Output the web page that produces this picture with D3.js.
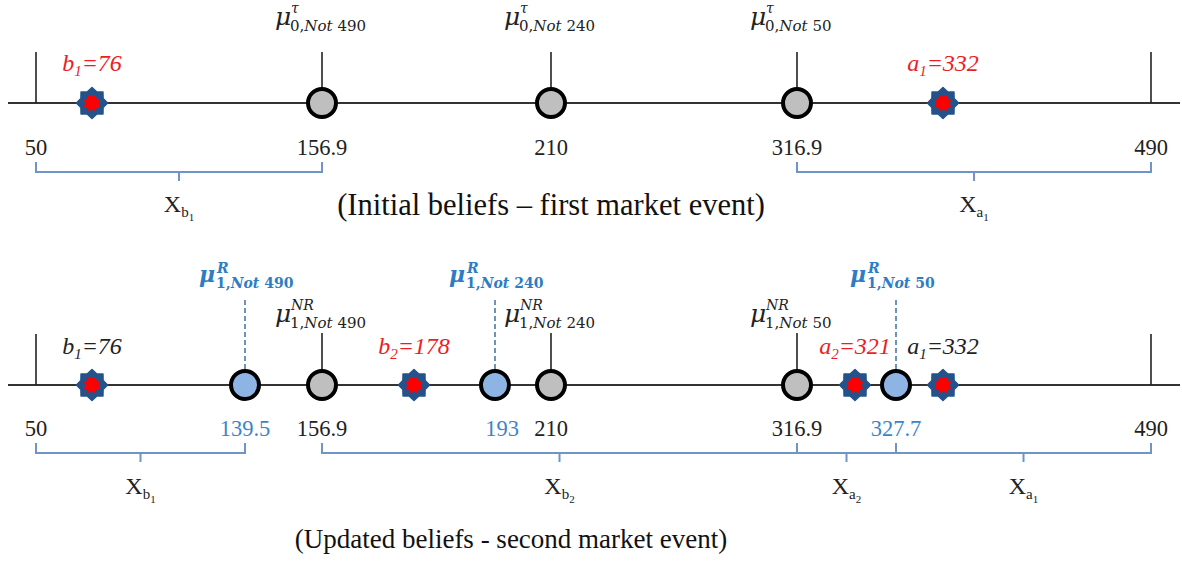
<!DOCTYPE html>
<html>
<head>
<meta charset="utf-8">
<script src="https://cdn.jsdelivr.net/npm/d3@7"></script>
<style>
  body { margin: 0; background: #fff; }
</style>
</head>
<body>
<div id="chart"></div>
<script>
var w = 1182;
var h = 566;

// schematic positions along the line (value -> pixel), the picture is not to scale
var anchorValues = [50, 76, 139.5, 156.9, 178, 193, 210, 316.9, 321, 327.7, 332, 490];
var anchorPixels = [36, 92, 245, 322, 414, 495, 551, 797, 855, 896, 943, 1151];

// first market event
var topTicks = [50, 156.9, 210, 316.9, 490];
var topCircles = [156.9, 210, 316.9];
var topCircleNot = ["490", "240", "50"];
var topStars = [76, 332];
var topStarNames = [["b", "1", "76"], ["a", "1", "332"]];
var topBraces = [[50, 156.9], [316.9, 490]];
var topBraceNames = [["b", "1"], ["a", "1"]];

// second market event
var botTicks = [50, 139.5, 156.9, 193, 210, 316.9, 327.7, 490];
var botTickBlue = [false, true, false, true, false, false, true, false];
var nrCircles = [156.9, 210, 316.9];
var nrCircleNot = ["490", "240", "50"];
var rCircles = [139.5, 193, 327.7];
var rCircleNot = ["490", "240", "50"];
var botStars = [76, 178, 321, 332];
var botStarNames = [["b", "1", "76"], ["b", "2", "178"], ["a", "2", "321"], ["a", "1", "332"]];
var botStarRed = [false, true, true, false];
var botBraces = [[50, 139.5], [156.9, 316.9], [316.9, 327.7], [327.7, 490]];
var botBraceNames = [["b", "1"], ["b", "2"], ["a", "2"], ["a", "1"]];

var titles = ["(Initial beliefs \u2013 first market event)", "(Updated beliefs - second market event)"];

var red = "#ee1c24";
var blue = "#2e7cc4";
var braceCol = "#6f95c8";
var serif = "'Liberation Serif', 'Times New Roman', serif";
var mathFont = "'DejaVu Serif', serif";

var x = d3.scaleLinear().domain(anchorValues).range(anchorPixels);

var svg = d3.select("#chart").append("svg")
	.attr("width", w)
	.attr("height", h);

function star8(r1, r2) {
	var pts = [];
	for (var i = 0; i < 16; i++) {
		var a = i * Math.PI / 8 - Math.PI / 2;
		var r = i % 2 == 0 ? r1 : r2;
		pts.push([Math.cos(a) * r, Math.sin(a) * r]);
	}
	return "M" + pts.map(p => p.join(",")).join("L") + "Z";
}

function muLabel(g, lx, base, sup, subIdx, num, bold, col) {
	var muSize = bold ? 22 : 25;
	var off = bold ? 17 : 15;
	var t = g.append("text")
		.attr("fill", col)
		.attr("font-family", mathFont)
		.attr("font-weight", bold ? "bold" : "normal");
	t.append("tspan")
		.attr("x", lx).attr("y", base)
		.attr("font-size", muSize).attr("font-style", "italic")
		.text("\u03bc");
	t.append("tspan")
		.attr("x", lx + off + 1).attr("y", base - (bold ? 9 : 12))
		.attr("font-size", 14).attr("font-style", "italic")
		.text(sup);
	t.append("tspan")
		.attr("x", lx + off).attr("y", base + 6)
		.attr("font-size", bold ? 14 : 15)
		.text(subIdx + ",");
	t.append("tspan")
		.attr("font-size", bold ? 14 : 15).attr("font-style", "italic")
		.text("Not");
	t.append("tspan")
		.attr("dx", 5)
		.attr("font-size", bold ? 14 : 15)
		.text(num);
}

function starLabel(g, cx, base, nm, col) {
	var t = g.append("text")
		.attr("x", cx).attr("y", base)
		.attr("text-anchor", "middle")
		.attr("fill", col)
		.attr("font-family", serif)
		.attr("font-style", "italic")
		.attr("font-size", 24);
	t.append("tspan").text(nm[0]);
	t.append("tspan").attr("font-size", 15).attr("dy", 5).text(nm[1]);
	t.append("tspan").attr("dy", -5).text("=" + nm[2]);
}

function brace(g, v0, v1, y0, nm, labelY) {
	var a = x(v0), b = x(v1), m = (a + b) / 2;
	g.append("path")
		.attr("d", "M" + a + "," + y0 + "V" + (y0 + 10) + "H" + b + "V" + y0 +
			"M" + m + "," + (y0 + 10) + "V" + (y0 + 19))
		.attr("fill", "none")
		.attr("stroke", braceCol)
		.attr("stroke-width", 2);
	var t = g.append("text")
		.attr("x", m).attr("y", labelY)
		.attr("text-anchor", "middle")
		.attr("fill", "#222")
		.attr("font-family", serif)
		.attr("font-size", 24);
	t.append("tspan").text("X");
	t.append("tspan").attr("font-size", 15).attr("dy", 5).text(nm[0]);
	t.append("tspan").attr("font-size", 11).attr("dy", 4).text(nm[1]);
}

function drawLine(g, y) {
	g.append("line")
		.attr("x1", 8).attr("x2", 1180)
		.attr("y1", y).attr("y2", y)
		.attr("stroke", "#333")
		.attr("stroke-width", 2);
	[50, 490].forEach(v => {
		g.append("line")
			.attr("x1", x(v)).attr("x2", x(v))
			.attr("y1", y - 51).attr("y2", y)
			.attr("stroke", "#222").attr("stroke-width", 1.6);
	});
}

function drawStar(g, v, y) {
	g.append("path").attr("d", star8(15.5, 12))
		.attr("transform", "translate(" + x(v) + "," + y + ")")
		.attr("fill", "#24528a")
		.attr("stroke", "#24528a")
		.attr("stroke-width", 1.5)
		.attr("stroke-linejoin", "round");
	g.append("path").attr("d", star8(9, 6.5))
		.attr("transform", "translate(" + x(v) + "," + y + ") rotate(22.5)")
		.attr("fill", "#ff0000");
}

function drawCircle(g, v, y, fill) {
	g.append("circle")
		.attr("cx", x(v)).attr("cy", y).attr("r", 14)
		.attr("fill", fill)
		.attr("stroke", "#000")
		.attr("stroke-width", 4);
}

// ---------- top panel ----------
var topG = svg.append("g");
var y1 = 103;
drawLine(topG, y1);

topCircles.forEach((v, i) => {
	topG.append("line")
		.attr("x1", x(v)).attr("x2", x(v))
		.attr("y1", 52).attr("y2", y1)
		.attr("stroke", "#222").attr("stroke-width", 1.6);
	muLabel(topG, x(v) - 47, 25, "\u03c4", "0", topCircleNot[i], false, "#222");
});
topStars.forEach((v, i) => {
	drawStar(topG, v, y1);
	starLabel(topG, x(v), 71, topStarNames[i], red);
});
topCircles.forEach(v => drawCircle(topG, v, y1, "#bfbfbf"));

topG.selectAll("text.tick")
	.data(topTicks)
	.enter()
	.append("text")
	.attr("class", "tick")
	.attr("x", d => x(d))
	.attr("y", 155)
	.attr("text-anchor", "middle")
	.attr("font-family", serif)
	.attr("font-size", 22.5)
	.attr("fill", "#222")
	.text(d => d);

topBraces.forEach((b, i) => brace(topG, b[0], b[1], 162, topBraceNames[i], 212));

topG.append("text")
	.attr("x", 551).attr("y", 215)
	.attr("text-anchor", "middle")
	.attr("font-family", serif)
	.attr("font-size", 30.5)
	.attr("fill", "#111")
	.text(titles[0]);

// ---------- bottom panel ----------
var botG = svg.append("g");
var y2 = 385;
drawLine(botG, y2);

nrCircles.forEach((v, i) => {
	botG.append("line")
		.attr("x1", x(v)).attr("x2", x(v))
		.attr("y1", 333).attr("y2", y2)
		.attr("stroke", "#222").attr("stroke-width", 1.6);
	muLabel(botG, x(v) - 47, 322, "NR", "1", nrCircleNot[i], false, "#222");
});
rCircles.forEach((v, i) => {
	botG.append("line")
		.attr("x1", x(v)).attr("x2", x(v))
		.attr("y1", 300).attr("y2", y2)
		.attr("stroke", "#4f79a8").attr("stroke-width", 1.6)
		.attr("stroke-dasharray", "5,3");
	muLabel(botG, x(v) - 46, 282, "R", "1", rCircleNot[i], true, blue);
});
botStars.forEach((v, i) => {
	drawStar(botG, v, y2);
	starLabel(botG, x(v), 354, botStarNames[i], botStarRed[i] ? red : "#222");
});
nrCircles.forEach(v => drawCircle(botG, v, y2, "#bfbfbf"));
rCircles.forEach(v => drawCircle(botG, v, y2, "#8eb4e3"));

botG.selectAll("text.tick")
	.data(botTicks)
	.enter()
	.append("text")
	.attr("class", "tick")
	.attr("x", (d, i) => x(d) + (d == 193 ? 7 : 0))
	.attr("y", 436)
	.attr("text-anchor", "middle")
	.attr("font-family", serif)
	.attr("font-size", 22.5)
	.attr("fill", (d, i) => botTickBlue[i] ? "#3b86c8" : "#222")
	.text(d => d);

botBraces.forEach((b, i) => brace(botG, b[0], b[1], 443, botBraceNames[i], 494));

botG.append("text")
	.attr("x", 511).attr("y", 548)
	.attr("text-anchor", "middle")
	.attr("font-family", serif)
	.attr("font-size", 27)
	.attr("fill", "#111")
	.text(titles[1]);
</script>
</body>
</html>
